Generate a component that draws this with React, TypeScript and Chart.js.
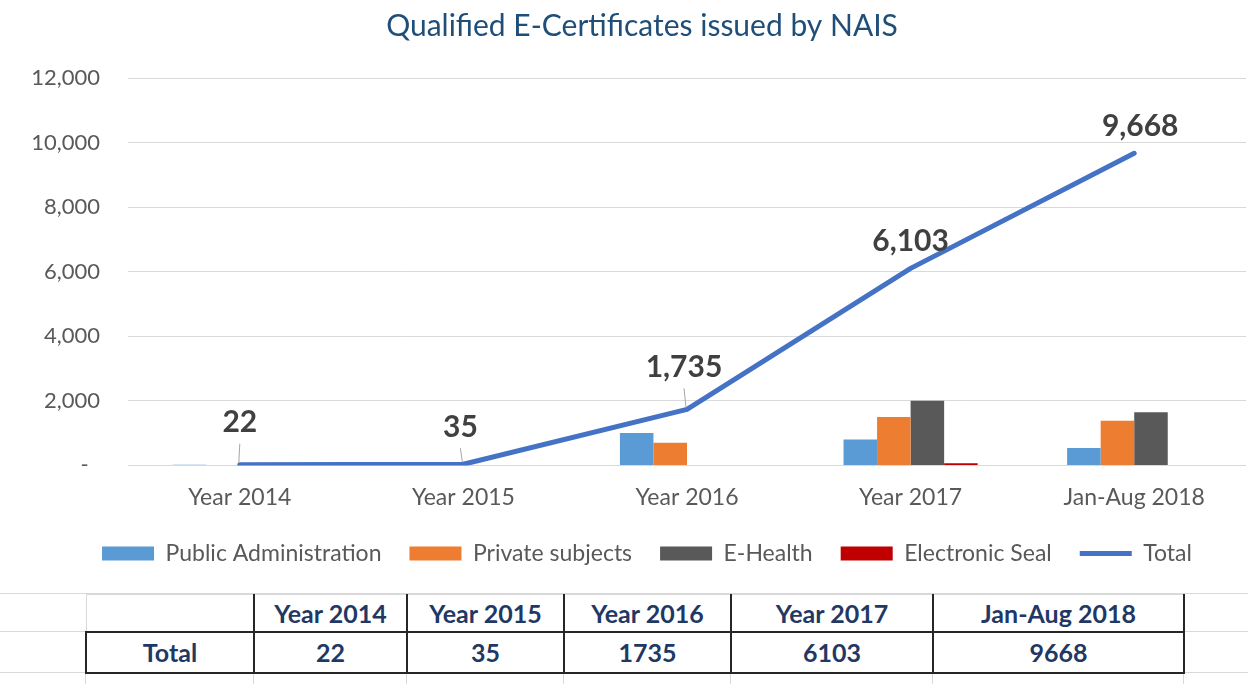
import React, { useEffect, useRef } from 'react';
import { Chart, registerables } from 'chart.js';

Chart.register(...registerables);

const categories = ['Year 2014', 'Year 2015', 'Year 2016', 'Year 2017', 'Jan-Aug 2018'];
const publicAdministration = [22, 13, 1000, 800, 540];
const privateSubjects = [0, 0, 700, 1500, 1380];
const eHealth = [0, 0, 0, 2000, 1645];
const electronicSeal = [0, 0, 0, 68, 0];
const totals = [22, 35, 1735, 6103, 9668];
const yMin = 0;
const yMax = 12000;
const yStep = 2000;
const tableRowLabel = 'Total';

const FONT = 'Lato, "Open Sans", sans-serif';

// label placement (style, not data)
const labelDy = [-42, -37, -42, -27, -27];
const labelDx = [0, -3, -3, 0, 6];
const hasLeader = [true, true, true, false, false];

const totalLabelsPlugin = {
  id: 'totalLabels',
  afterDatasetsDraw(chart: any) {
    const idx = chart.data.datasets.findIndex((d: any) => d.type === 'line');
    const meta = chart.getDatasetMeta(idx);
    const ctx = chart.ctx;
    ctx.save();
    meta.data.forEach((pt: any, i: number) => {
      const lx = pt.x + labelDx[i];
      const ly = pt.y + labelDy[i];
      if (hasLeader[i]) {
        ctx.strokeStyle = '#a6a6a6';
        ctx.lineWidth = 1;
        ctx.beginPath();
        ctx.moveTo(lx, ly + 21);
        ctx.lineTo(pt.x - 1, pt.y - 2);
        ctx.stroke();
      }
      ctx.font = `bold 30px ${FONT}`;
      ctx.fillStyle = '#404040';
      ctx.textAlign = 'center';
      ctx.textBaseline = 'middle';
      ctx.fillText(totals[i].toLocaleString('en-US'), lx, ly);
    });
    ctx.restore();
  },
};

// nudges the title and legend blocks horizontally, as in the original layout
const blockShiftPlugin = {
  id: 'blockShift',
  afterLayout(chart: any) {
    if (chart.titleBlock) {
      chart.titleBlock.left += 19;
      chart.titleBlock.right += 19;
    }
    if (chart.legend) {
      chart.legend.left += 24;
      chart.legend.right += 24;
    }
  },
};

function ChartCanvas() {
  const ref = useRef<HTMLCanvasElement>(null);
  useEffect(() => {
    if (!ref.current) return;
    const chart = new Chart(ref.current, {
      type: 'bar',
      data: {
        labels: categories,
        datasets: [
          { type: 'bar', label: 'Public Administration', data: publicAdministration, backgroundColor: '#5B9BD5', borderWidth: 0, categoryPercentage: 0.6, barPercentage: 1.0 } as any,
          { type: 'bar', label: 'Private subjects', data: privateSubjects, backgroundColor: '#ED7D31', borderWidth: 0, categoryPercentage: 0.6, barPercentage: 1.0 } as any,
          { type: 'bar', label: 'E-Health', data: eHealth, backgroundColor: '#595959', borderWidth: 0, categoryPercentage: 0.6, barPercentage: 1.0 } as any,
          { type: 'bar', label: 'Electronic Seal', data: electronicSeal, backgroundColor: '#C00000', borderWidth: 0, categoryPercentage: 0.6, barPercentage: 1.0 } as any,
          { type: 'line', label: 'Total', data: totals, borderColor: '#4472C4', backgroundColor: '#4472C4', borderWidth: 5, pointRadius: 0, tension: 0, borderCapStyle: 'round', borderJoinStyle: 'round', order: -1 } as any,
        ],
      },
      options: {
        animation: false,
        responsive: true,
        maintainAspectRatio: false,
        layout: { padding: { left: 0, right: 2, top: 0, bottom: 10 } },
        plugins: {
          title: {
            display: true,
            text: 'Qualified E-Certificates issued by NAIS',
            color: '#1F4E79',
            font: { family: FONT, size: 30, weight: 'normal' },
            padding: { top: 8, bottom: 34 },
          },
          legend: {
            position: 'bottom',
            labels: {
              usePointStyle: true,
              pointStyleWidth: 52,
              boxHeight: 14,
              color: '#595959',
              font: { family: FONT, size: 23 },
              padding: 28,
              sort: (a: any, b: any) => a.datasetIndex - b.datasetIndex,
              generateLabels: (chart: any) => {
                const items = (Chart.defaults.plugins.legend.labels as any).generateLabels(chart);
                items.forEach((it: any) => {
                  const ds = chart.data.datasets[it.datasetIndex];
                  it.pointStyle = ds.type === 'line' ? 'line' : 'rect';
                });
                return items;
              },
            },
          },
          tooltip: { enabled: false },
        },
        scales: {
          x: {
            grid: { display: false, drawTicks: false },
            border: { display: false },
            ticks: { color: '#595959', font: { family: FONT, size: 23 }, padding: 18 },
            afterFit: (scale: any) => {
              scale.height = scale.height - 15;
            },
          },
          y: {
            min: yMin,
            max: yMax,
            ticks: {
              stepSize: yStep,
              color: '#595959',
              font: { family: FONT, size: 22 },
              padding: 28,
              callback: (v: any) => (v === 0 ? '-  ' : Number(v).toLocaleString('en-US')),
            },
            grid: { color: '#d9d9d9', lineWidth: 1, drawTicks: false },
            border: { display: false },
            afterFit: (scale: any) => {
              scale.width = 128;
            },
          },
        },
      },
      plugins: [totalLabelsPlugin, blockShiftPlugin],
    });
    return () => chart.destroy();
  }, []);
  return <canvas ref={ref} />;
}

const colWidths = [168, 153, 157, 167, 202, 251];
const dark = '2px solid #262626';
const light = '1px solid #d9d9d9';

function DataTable() {
  const cellBase: React.CSSProperties = {
    fontFamily: FONT,
    fontWeight: 'bold',
    fontSize: 25,
    color: '#1F3864',
    textAlign: 'center',
    padding: 0,
    boxSizing: 'border-box',
  };
  return (
    <table
      style={{
        position: 'absolute',
        left: 85,
        top: 594,
        borderCollapse: 'collapse',
        tableLayout: 'fixed',
        width: colWidths.reduce((a, b) => a + b, 0),
      }}
    >
      <colgroup>
        {colWidths.map((w, i) => (
          <col key={i} style={{ width: w }} />
        ))}
      </colgroup>
      <tbody>
        <tr style={{ height: 37 }}>
          <td style={{ ...cellBase, borderLeft: light, borderTop: light, borderRight: dark, borderBottom: dark }}></td>
          {categories.map((c) => (
            <td key={c} style={{ ...cellBase, borderTop: light, borderRight: dark, borderLeft: dark, borderBottom: dark }}>
              {c}
            </td>
          ))}
        </tr>
        <tr style={{ height: 41 }}>
          <td style={{ ...cellBase, border: dark }}>{tableRowLabel}</td>
          {totals.map((v, i) => (
            <td key={i} style={{ ...cellBase, border: dark }}>
              {String(v)}
            </td>
          ))}
        </tr>
      </tbody>
    </table>
  );
}

export default function App() {
  useEffect(() => {
    document.body.style.margin = '0';
  }, []);
  return (
    <div style={{ position: 'relative', width: 1248, height: 684, background: '#fff', overflow: 'hidden' }}>
      <div style={{ position: 'absolute', left: 0, top: 0, width: 1248, height: 585 }}>
        <ChartCanvas />
      </div>
      {/* spreadsheet gridlines */}
      <div style={{ position: 'absolute', left: 0, top: 593, width: 1248, height: 1, background: '#d9d9d9' }} />
      <div style={{ position: 'absolute', left: 0, top: 631, width: 1248, height: 1, background: '#d9d9d9' }} />
      <div style={{ position: 'absolute', left: 0, top: 672, width: 1248, height: 1, background: '#d9d9d9' }} />
      {[85, 253, 406, 563, 730, 932, 1183].map((x) => (
        <div key={x} style={{ position: 'absolute', left: x, top: 672, width: 1, height: 12, background: '#d9d9d9' }} />
      ))}
      <DataTable />
    </div>
  );
}
